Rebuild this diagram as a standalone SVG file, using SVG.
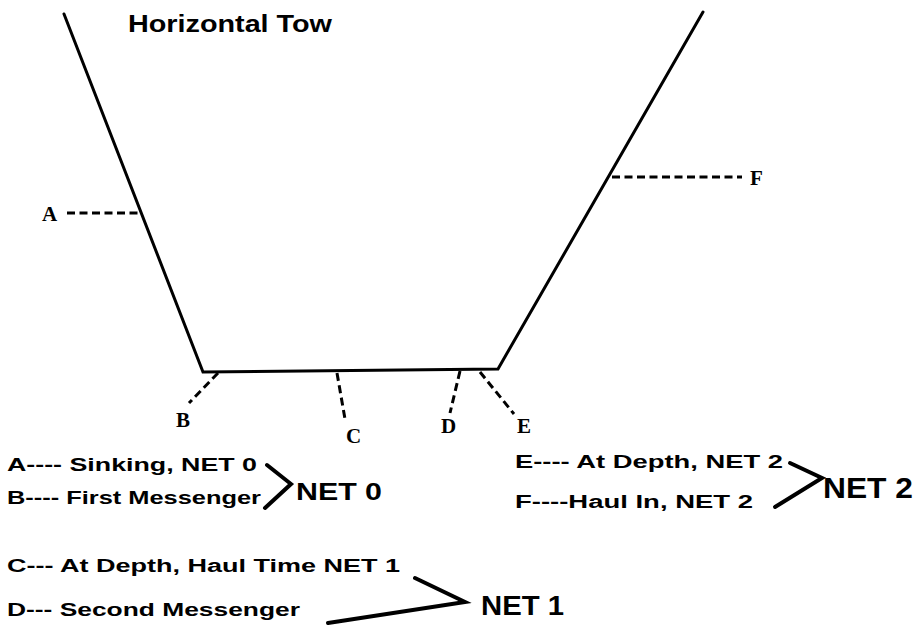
<svg xmlns="http://www.w3.org/2000/svg" width="920" height="625" viewBox="0 0 920 625" xml:space="preserve">
<style>
.bg{fill:#ffffff}
.tow{fill:none;stroke:#000;stroke-width:3;stroke-linejoin:miter;stroke-linecap:round}
.dash{fill:none;stroke:#000;stroke-width:3;stroke-dasharray:8 4.5}
.brk{fill:none;stroke:#000;stroke-width:4;stroke-linecap:round;stroke-linejoin:miter}
.lbl{font-family:"Liberation Serif","Times New Roman",serif;font-weight:bold;font-size:21px;fill:#000}
.txt{font-family:"Liberation Sans",Arial,sans-serif;font-weight:bold;font-size:18px;fill:#000}
.net{font-family:"Liberation Sans",Arial,sans-serif;font-weight:bold;fill:#000}
.title{font-family:"Liberation Sans",Arial,sans-serif;font-weight:bold;font-size:23px;fill:#000}
</style>
<rect class="bg" x="0" y="0" width="920" height="625"/>
<text class="title" x="128" y="32" textLength="204" lengthAdjust="spacingAndGlyphs">Horizontal  Tow</text>
<g id="tow-path">
<polyline class="tow" points="64,14 203,372 498,369 703,12"/>
</g>
<g id="connectors">
<line class="dash" x1="67" y1="213" x2="141" y2="213"/>
<line class="dash" x1="612" y1="177" x2="742" y2="177"/>
<line class="dash" x1="218" y1="373" x2="189" y2="403"/>
<line class="dash" x1="337" y1="373" x2="345" y2="419"/>
<line class="dash" x1="460" y1="371" x2="450" y2="413"/>
<line class="dash" x1="480" y1="372" x2="514" y2="414"/>
</g>
<g id="node-A"><text class="lbl" x="42" y="221">A</text></g>
<g id="node-B"><text class="lbl" x="176" y="427">B</text></g>
<g id="node-C"><text class="lbl" x="346" y="443">C</text></g>
<g id="node-D"><text class="lbl" x="441" y="433">D</text></g>
<g id="node-E"><text class="lbl" x="517" y="433">E</text></g>
<g id="node-F"><text class="lbl" x="750" y="185">F</text></g>
<g id="legend-net0">
<text class="txt" x="7" y="471" textLength="250" lengthAdjust="spacingAndGlyphs">A---- Sinking,  NET  0</text>
<text class="txt" x="7" y="504" textLength="254" lengthAdjust="spacingAndGlyphs">B---- First  Messenger</text>
<polyline class="brk" points="267,465 291,484 265,508"/>
<text class="net" x="296" y="500" font-size="24" textLength="86" lengthAdjust="spacingAndGlyphs">NET  0</text>
</g>
<g id="legend-net1">
<text class="txt" x="7" y="572" textLength="393" lengthAdjust="spacingAndGlyphs">C--- At  Depth,  Haul Time NET  1</text>
<text class="txt" x="7" y="616" textLength="293" lengthAdjust="spacingAndGlyphs">D--- Second  Messenger</text>
<polyline class="brk" points="415,578 465,602 328,623"/>
<text class="net" x="481" y="615" font-size="27" textLength="83" lengthAdjust="spacingAndGlyphs">NET  1</text>
</g>
<g id="legend-net2">
<text class="txt" x="515" y="468" textLength="268" lengthAdjust="spacingAndGlyphs">E---- At  Depth, NET  2</text>
<text class="txt" x="515" y="508" textLength="238" lengthAdjust="spacingAndGlyphs">F----Haul  In, NET  2</text>
<polyline class="brk" points="790,463 822,478 775,507"/>
<text class="net" x="823" y="498" font-size="29" textLength="90" lengthAdjust="spacingAndGlyphs">NET  2</text>
</g>
</svg>
